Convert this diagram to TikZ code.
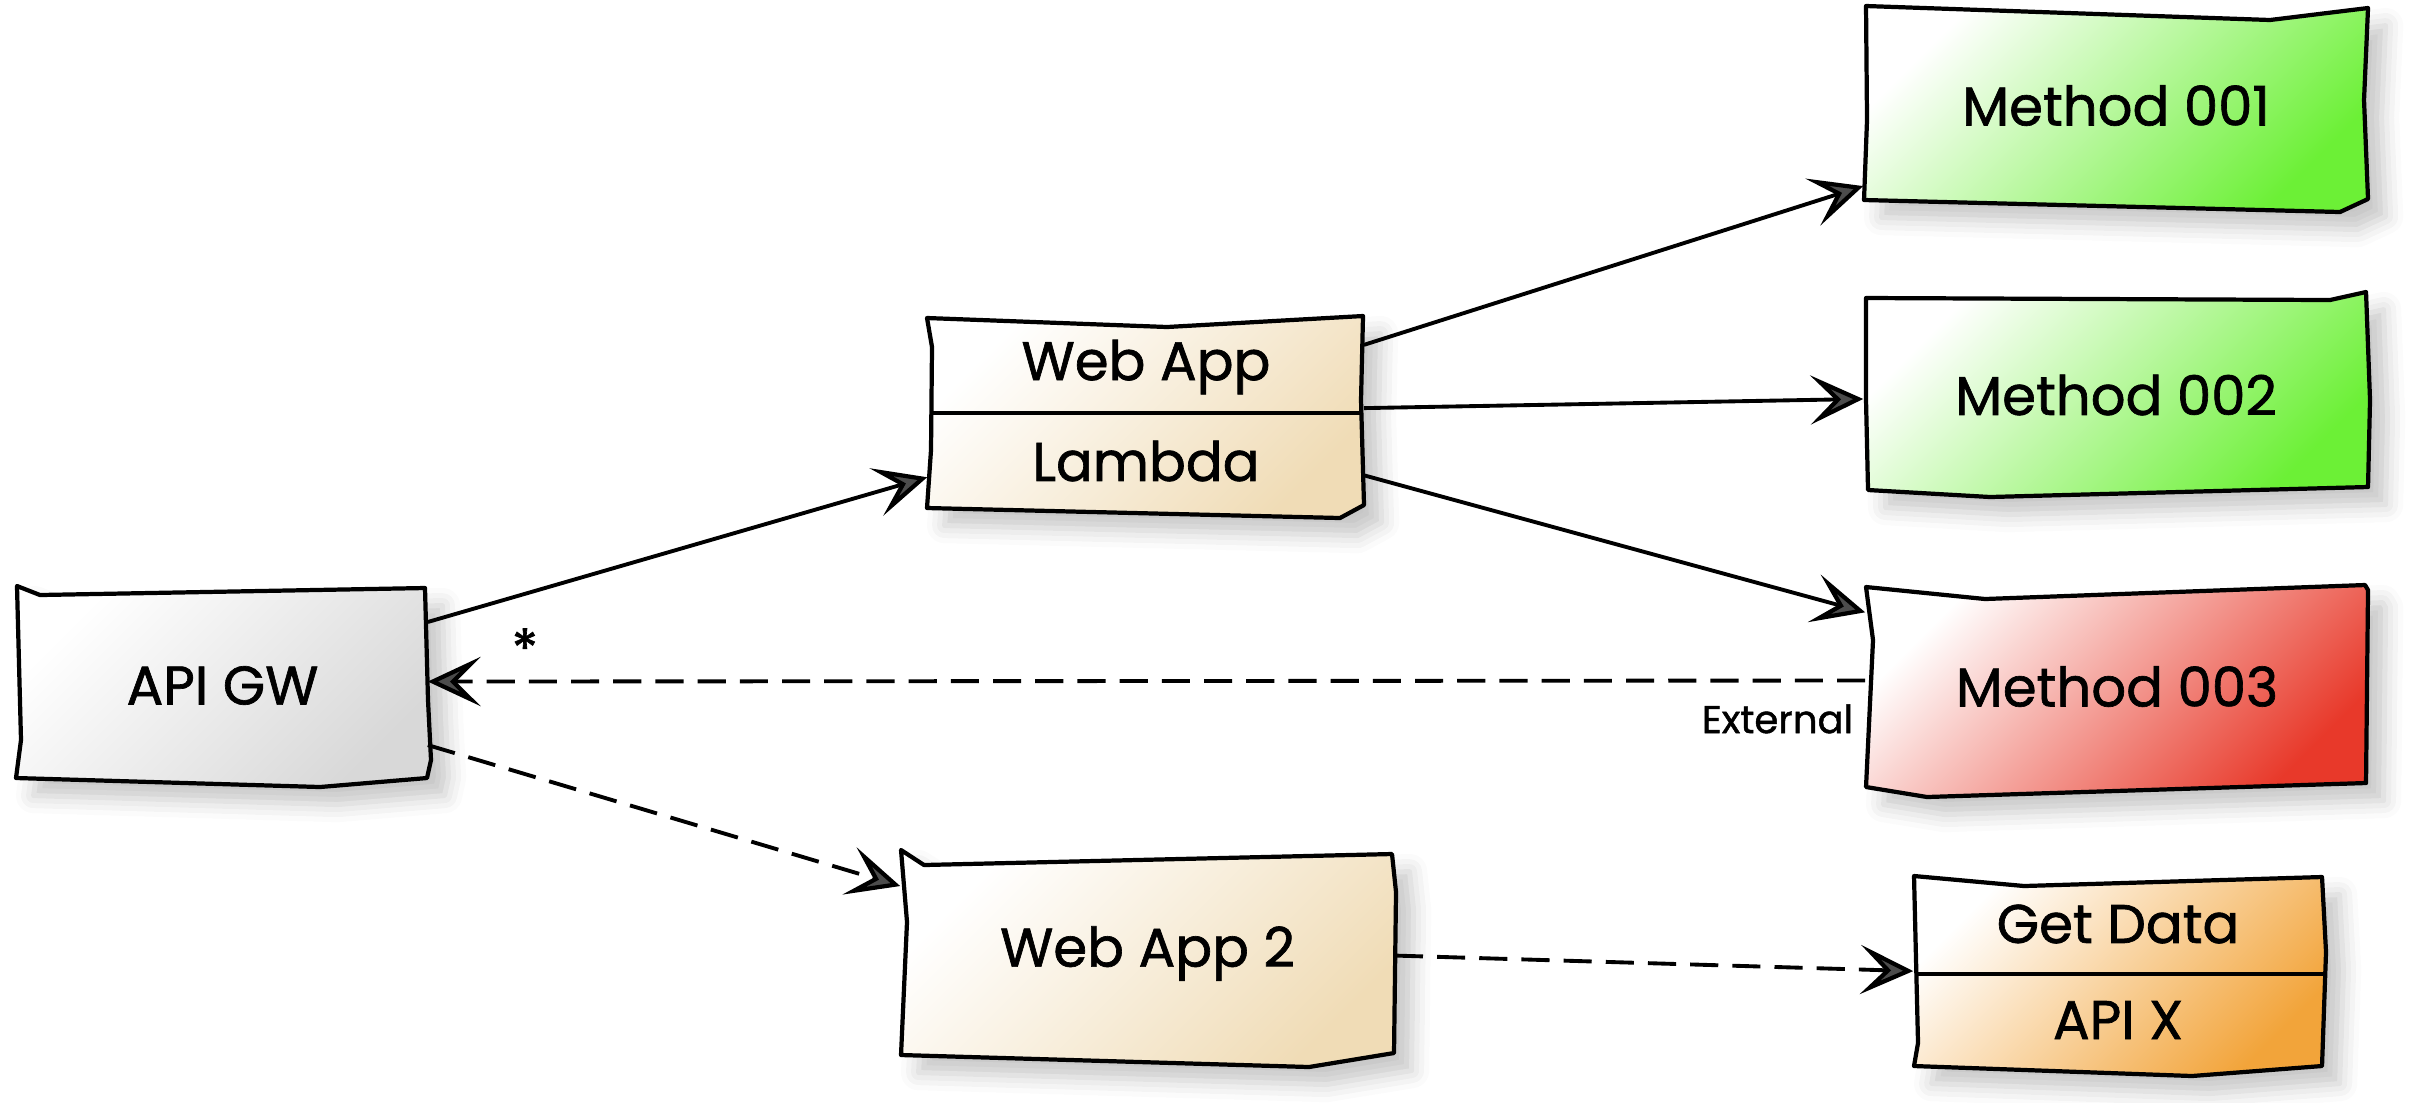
\documentclass[tikz,border=0pt]{standalone}
\usepackage{fontspec}
\setmainfont{Poppins}[FakeBold=1.2]
\usetikzlibrary{arrows.meta,calc,shadows.blur}
\definecolor{gwc}{HTML}{D8D8D8}
\definecolor{webc}{HTML}{F0DCB6}
\definecolor{grnc}{HTML}{6CF036}
\definecolor{redc}{HTML}{E8392A}
\definecolor{orc}{HTML}{F2A43A}
\begin{document}
\begin{tikzpicture}[x=0.01cm,y=-0.01cm,
  outline/.style={line width=1.2pt, line join=round,
    blur shadow={shadow xshift=5pt, shadow yshift=-5pt, shadow blur radius=5pt, shadow opacity=22}},
  anchorbox/.style={rectangle, inner sep=0pt, font=\fontsize{15.5}{18}\selectfont},
  lbl/.style={inner sep=0pt, font=\fontsize{15.5}{18}\selectfont},
  small/.style={inner sep=0pt, font=\fontsize{11}{13}\selectfont},
  conn/.style={line width=1.1pt, -{Stealth[length=15pt,width=14pt,inset=7pt,fill=black!70,line width=1.2pt]}},
  dashedconn/.style={conn, dash pattern=on 8pt off 4pt},
  divider/.style={line width=1.15pt}
]
\useasboundingbox (0,0) rectangle (2416,1102);

% ---- box outlines (hand-drawn look) ----
% API GW
\draw[outline, top color=white, bottom color=gwc, shading angle=45]
  (17,586) -- (40,595) -- (425,588) -- (428,700) -- (431,760) -- (427,778)
  -- (320,787) -- (16,778) -- (21,740) -- cycle;
% Web App / Lambda
\draw[outline, top color=white, bottom color=webc, shading angle=45]
  (927,318) -- (1167,327) -- (1363,316) -- (1361,400) -- (1364,505) -- (1340,518)
  -- (927,508) -- (931,450) -- (932,347) -- cycle;
% Method 001
\draw[outline, top color=white, bottom color=grnc, shading angle=45]
  (1866,6) -- (2270,20) -- (2368,8) -- (2364,100) -- (2368,199) -- (2340,212)
  -- (1864,200) -- (1867,120) -- cycle;
% Method 002
\draw[outline, top color=white, bottom color=grnc, shading angle=45]
  (1866,298) -- (2330,300) -- (2366,292) -- (2370,400) -- (2368,487)
  -- (1990,497) -- (1868,490) -- (1866,400) -- cycle;
% Method 003
\draw[outline, top color=white, bottom color=redc, shading angle=45]
  (1866,587) -- (1985,599) -- (2365,585) -- (2368,590) -- (2366,783)
  -- (1927,797) -- (1866,787) -- (1873,640) -- cycle;
% Web App 2
\draw[outline, top color=white, bottom color=webc, shading angle=45]
  (901,850) -- (924,865) -- (1392,854) -- (1396,892) -- (1394,1053)
  -- (1309,1067) -- (901,1055) -- (907,922) -- cycle;
% Get Data / API X
\draw[outline, top color=white, bottom color=orc, shading angle=45]
  (1914,876) -- (2024,886) -- (2322,877) -- (2326,952) -- (2322,1066)
  -- (2192,1076) -- (1914,1066) -- (1918,1043) -- cycle;

% ---- nodes ----
\node[anchorbox, minimum width=4.09cm, minimum height=1.97cm] (apigw) at (222.5,685.5) {API GW};
\node[anchorbox, minimum width=4.35cm, minimum height=1.96cm] (webapp) at (1145.5,416) {};
\node[lbl] (webapptxt) at (1146,367) {Web App};
\node[lbl] (lambdatxt) at (1146,461) {Lambda};
\node[anchorbox, minimum width=5.04cm, minimum height=1.95cm] (m1) at (2116,105.5) {Method 001};
\node[anchorbox, minimum width=5.04cm, minimum height=1.96cm] (m2) at (2116,395) {Method 002};
\node[anchorbox, minimum width=5.02cm, minimum height=1.99cm] (m3) at (2117,686.5) {Method 003};
\node[anchorbox, minimum width=4.93cm, minimum height=2.03cm] (webapp2) at (1147.5,953.5) {Web App 2};
\node[anchorbox, minimum width=4.08cm, minimum height=1.90cm] (getdata) at (2118,973) {};
\node[lbl] (getdatatxt) at (2118,924) {Get Data};
\node[lbl] (apixtxt) at (2118,1020) {API X};

% dividers
\draw[divider] ($(webapp.west)+(3,-3)$) -- ($(webapp.east)+(-2,-3)$);
\draw[divider] ($(getdata.west)+(2,1)$) -- ($(getdata.east)+(0,1)$);

% ---- connectors ----
\draw[conn] ($(apigw.north east)!0.18!(apigw.south east)$) -- ($(webapp.north west)!0.81!(webapp.south west)$);
\draw[conn] ($(webapp.north east)!0.14!(webapp.south east)$) -- ($(m1.north west)!0.91!(m1.south west)$);
\draw[conn] ($(webapp.north east)!0.46!(webapp.south east)$) -- ($(m2.north west)!0.52!(m2.south west)$);
\draw[conn] ($(webapp.north east)!0.80!(webapp.south east)$) -- ($(m3.north west)!0.13!(m3.south west)$);
\draw[dashedconn] ($(m3.north west)!0.47!(m3.south west)$)
  -- node[small, pos=0, anchor=north east, xshift=-0.1cm, yshift=-0.22cm] {External}
     node[lbl, pos=1, xshift=0.97cm, yshift=0.33cm] {*}
  ($(apigw.north east)!0.48!(apigw.south east)$);
\draw[dashedconn] ($(apigw.north east)!0.80!(apigw.south east)$) -- ($(webapp2.north west)!0.17!(webapp2.south west)$);
\draw[dashedconn] ($(webapp2.north east)!0.51!(webapp2.south east)$) -- ($(getdata.north west)!0.49!(getdata.south west)$);
\end{tikzpicture}
\end{document}
